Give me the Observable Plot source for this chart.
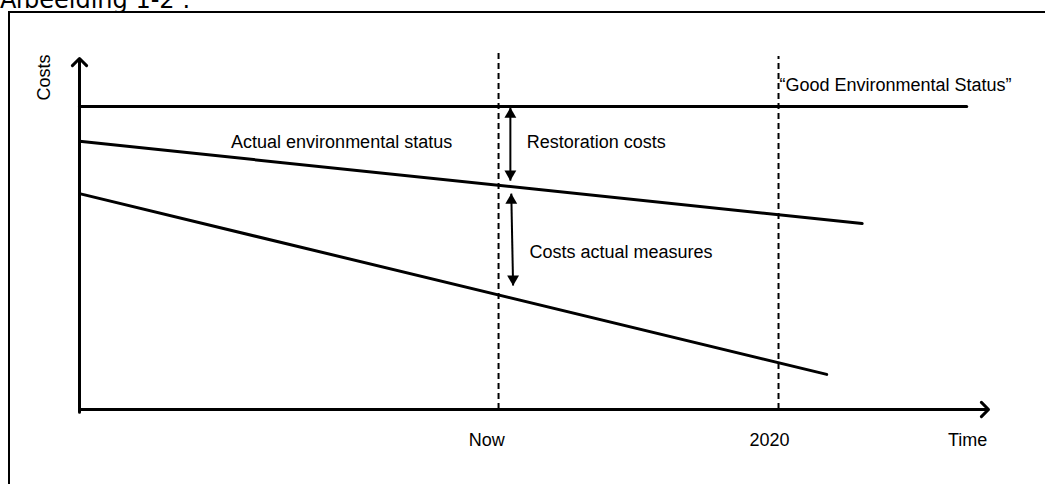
<!DOCTYPE html>
<html>
<head>
<meta charset="utf-8">
<script src="https://cdn.jsdelivr.net/npm/d3@7"></script>
<script src="https://cdn.jsdelivr.net/npm/@observablehq/plot@0.6"></script>
<style>
  html, body { margin: 0; padding: 0; background: #fff; overflow: hidden; }
  #wrap { position: relative; width: 1045px; height: 484px; overflow: hidden; }
  #title { position: absolute; left: 0px; top: -12px; font-family: "DejaVu Sans", Verdana, sans-serif; font-size: 24px; line-height: 24px; color: #000; white-space: nowrap; }
  #frame { position: absolute; left: 8px; top: 11px; width: 1100px; height: 600px; border: 2px solid #000; box-sizing: border-box; }
  #chart { position: absolute; left: 0; top: 0; }
</style>
</head>
<body>
<div id="wrap">
  <div id="title">Afbeelding 1-2 :</div>
  <div id="frame"></div>
  <div id="chart"></div>
</div>
<script>
// ---- data (arbitrary units: time 0..100, costs 0..100) ----
const timeMarks = ["Now", "2020"];
const timeMarkX = [44.8, 75.9];          // label positions
const timeRuleX = [46.1, 76.9];          // dashed rule positions
const timeRuleTop = [102.3, 100.6];
const axisLabel = "Time";
const axisLabelX = 97.7;

const gesX = [0, 97.6];
const gesY = [86.3, 86.3];
const actualX = [0, 86.1];
const actualY = [76.4, 53.0];
const measuresX = [0, 82.2];
const measuresY = [61.5, 10.0];

// double arrows: [x1, y1, x2, y2]
const restorationArrow = [47.4, 86.0, 47.4, 65.2];
const measuresArrow = [47.5, 61.5, 47.7, 35.3];

const labels = ["Actual environmental status", "Restoration costs", "Costs actual measures", "\u201CGood Environmental Status\u201D"];
const labelX = [41.0, 49.2, 49.5, 77.0];
const labelY = [74.4, 74.4, 43.3, 90.6];
const labelAnchor = ["end", "start", "start", "start"];

// ---- build tables ----
const seriesLines = [
  ...gesX.map((x, i) => ({series: "ges", x, y: gesY[i]})),
  ...actualX.map((x, i) => ({series: "actual", x, y: actualY[i]})),
  ...measuresX.map((x, i) => ({series: "measures", x, y: measuresY[i]}))
];
const rules = timeRuleX.map((x, i) => ({x, top: timeRuleTop[i]}));
const ticks = timeMarks.map((t, i) => ({t, x: timeMarkX[i]})).concat([{t: axisLabel, x: axisLabelX}]);
const arrows = [restorationArrow, measuresArrow].map(([x1, y1, x2, y2]) => ({x1, y1, x2, y2}));
const headsUp = arrows.map(a => ({x: a.x1, y: a.y1}));
const headsDown = arrows.map(a => ({x: a.x2, y: a.y2}));
const texts = labels.map((t, i) => ({t, x: labelX[i], y: labelY[i], a: labelAnchor[i]}));

const font = "Liberation Sans, Arial, sans-serif";

const chart = Plot.plot({
  width: 1045,
  height: 484,
  marginLeft: 79,
  marginRight: 57,
  marginTop: 58,
  marginBottom: 75,
  x: {domain: [0, 100], axis: null},
  y: {domain: [0, 100], axis: null},
  style: {fontFamily: font, background: "transparent", overflow: "visible"},
  marks: [
    // dashed time rules
    Plot.ruleX(rules, {x: "x", y1: 0, y2: "top", stroke: "#000", strokeWidth: 2, strokeDasharray: "6,4"}),
    // axes with open arrowheads
    Plot.arrow([{x1: 0, y1: -0.8, x2: 0, y2: 100}], {x1: "x1", y1: "y1", x2: "x2", y2: "y2", stroke: "#000", strokeWidth: 3, headLength: 5, headAngle: 90}),
    Plot.arrow([{x1: 0, y1: 0, x2: 100, y2: 0}], {x1: "x1", y1: "y1", x2: "x2", y2: "y2", stroke: "#000", strokeWidth: 3, headLength: 5, headAngle: 90}),
    // series lines
    Plot.line(seriesLines, {x: "x", y: "y", z: "series", stroke: "#000", strokeWidth: 3}),
    // double-headed arrows
    Plot.link(arrows, {x1: "x1", y1: "y1", x2: "x2", y2: "y2", stroke: "#000", strokeWidth: 2}),
    Plot.dot(headsUp, {x: "x", y: "y", symbol: "triangle", r: 4.4, fill: "#000", stroke: null, dy: 6.7}),
    Plot.dot(headsDown, {x: "x", y: "y", symbol: "triangle", r: 4.4, fill: "#000", stroke: null, rotate: 180, dy: -6.7}),
    // labels
    Plot.text(texts.filter(d => d.a === "end"), {x: "x", y: "y", text: "t", textAnchor: "end", lineAnchor: "bottom", fontSize: 18, fill: "#000"}),
    Plot.text(texts.filter(d => d.a === "start"), {x: "x", y: "y", text: "t", textAnchor: "start", lineAnchor: "bottom", fontSize: 18, fill: "#000"}),
    Plot.text(ticks, {x: "x", y: -10.3, text: "t", lineAnchor: "bottom", fontSize: 18, fill: "#000"}),
    Plot.text(["Costs"], {x: -3.85, y: 94.6, text: d => d, rotate: -90, fontSize: 18, fill: "#000"})
  ]
});
document.getElementById("chart").appendChild(chart);
</script>
</body>
</html>
